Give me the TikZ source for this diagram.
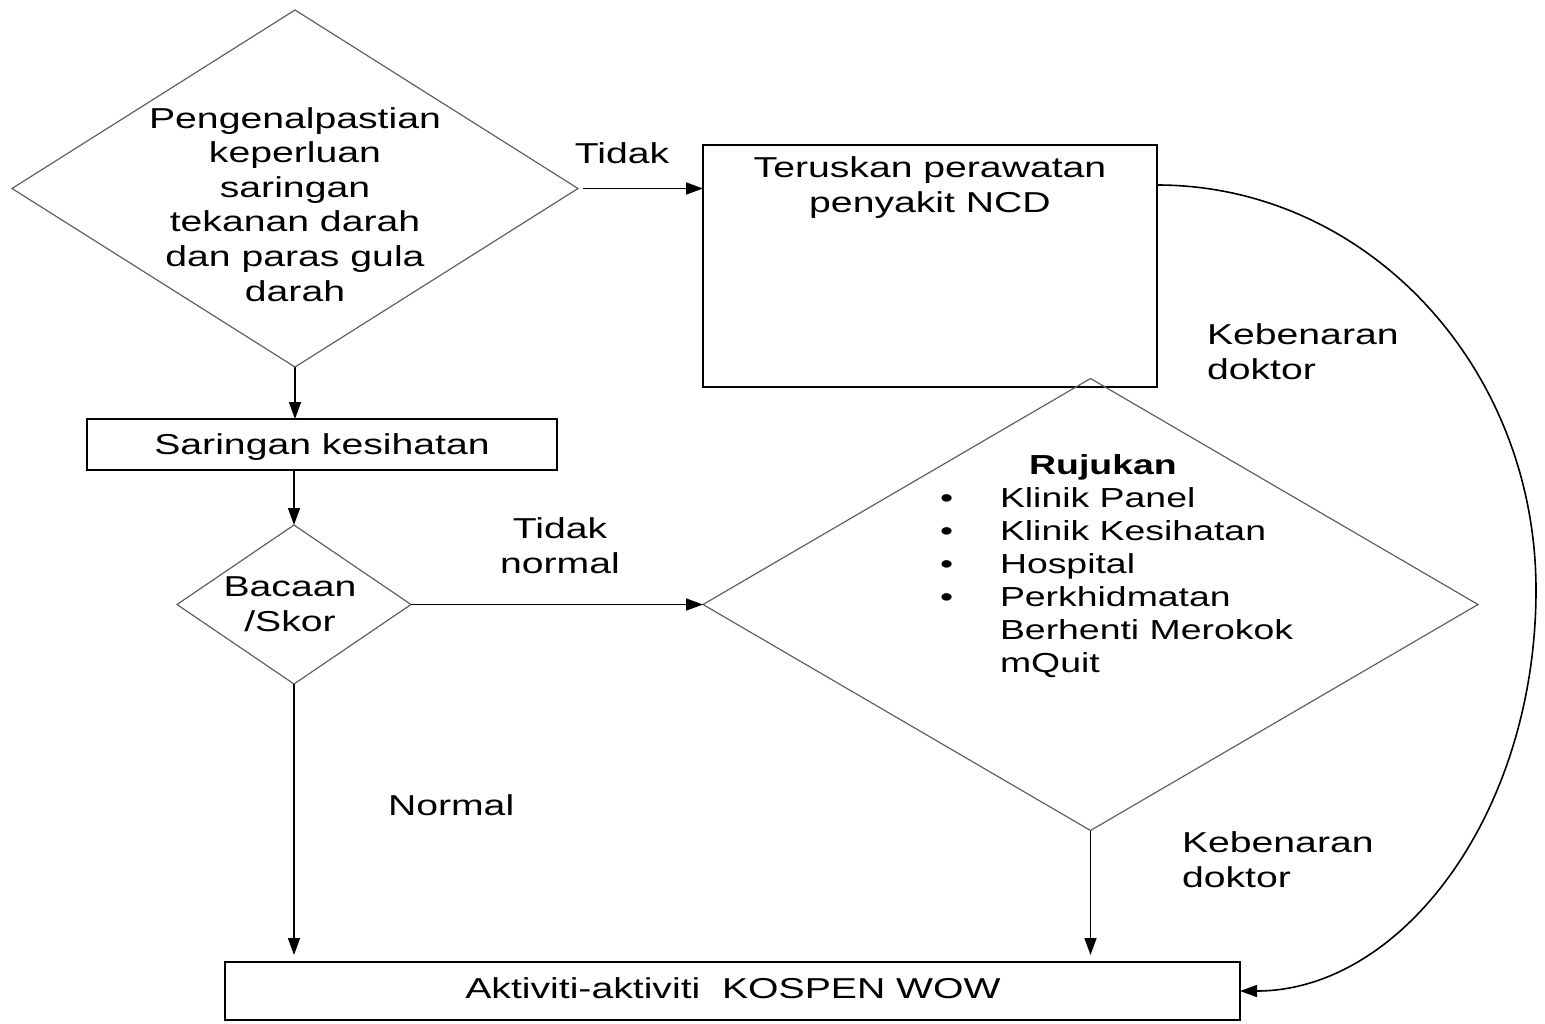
\documentclass[tikz,border=0pt]{standalone}
\usepackage{fontspec}
\setmainfont{Liberation Sans}[FakeStretch=1.36]
\usetikzlibrary{shapes.geometric,arrows.meta,calc}
\begin{document}
\begin{tikzpicture}[x=1pt,y=-1pt,
  txt/.style={font=\fontsize{28.8}{34.6}\selectfont, inner sep=0pt, outer sep=0pt, anchor=base, align=center},
  listtxt/.style={font=\fontsize{27.5}{33}\selectfont, inner sep=0pt, outer sep=0pt, anchor=base west, align=left},
  dia/.style={draw=black!62, line width=1.2pt, diamond, aspect=1, inner sep=0pt, outer sep=0pt},
  box/.style={draw=black, line width=1.6pt, rectangle, inner sep=0pt, outer sep=0pt},
  arr/.style={draw=black, line width=1.6pt, -{Triangle[length=17pt,width=12pt]}},
]
\path[use as bounding box, fill=white] (0,0) rectangle (1545,1023);

% shapes
\node[dia, minimum width=566pt, minimum height=357pt] (d1) at (295,188.5) {};
\node[box, minimum width=470pt, minimum height=51pt] (sar) at (322,444.5) {};
\node[dia, minimum width=234pt, minimum height=159pt] (d2) at (294,604.5) {};
\node[box, minimum width=454pt, minimum height=242pt] (ncd) at (930,266) {};
\node[dia, minimum width=775pt, minimum height=452pt] (d3) at (1090.5,604.5) {};
\node[box, minimum width=1015pt, minimum height=58pt] (act) at (732.5,991) {};

% texts (base anchor = baseline of the last line)
\node[txt] (t1) at (295,301) {Pengenalpastian\\keperluan\\saringan\\tekanan darah\\dan paras gula\\darah};
\node[txt] (tidak1) at (622,163) {Tidak};
\node[txt] (tncd) at (930,212) {Teruskan perawatan\\penyakit NCD};
\node[txt, anchor=base west, align=left] (keb1) at (1207,379) {Kebenaran\\doktor};
\node[txt] (tsar) at (322,454) {Saringan kesihatan};
\node[txt] (tbac) at (290,631) {Bacaan\\/Skor};
\node[txt] (tn) at (560,573) {Tidak\\normal};
\node[txt, font=\fontsize{27.5}{33}\selectfont\bfseries] (ruj) at (1103,474) {Rujukan};
\node[listtxt] (list) at (940,672) {\makebox[60pt][l]{•}Klinik Panel\\
\makebox[60pt][l]{•}Klinik Kesihatan\\
\makebox[60pt][l]{•}Hospital\\
\makebox[60pt][l]{•}Perkhidmatan\\
\hspace*{60pt}Berhenti Merokok\\
\hspace*{60pt}mQuit};
\node[txt, anchor=base west] (norm) at (388,815) {Normal};
\node[txt, anchor=base west, align=left] (keb2) at (1182,887) {Kebenaran\\doktor};
\node[txt] (tact) at (733,998) {Aktiviti-aktiviti\ \ KOSPEN WOW};

% connectors
\draw[arr] (d1.south) -- (d1.south |- sar.north);
\draw[arr] (d2.north |- sar.south) -- (d2.north);
\draw[arr, shorten <=5pt] (d1.east) -- (d1.east -| ncd.west);
\draw[arr] (d2.east) -- (d3.west);
\draw[arr, shorten >=7pt] (d2.south) -- (d2.south |- act.north);
\draw[arr, shorten >=7pt] (d3.south) -- (d3.south |- act.north);
\coordinate (cv) at (1536,590);
\draw[arr] ($(ncd.north east)+(0,40)$) .. controls +(209,0) and +(0,-224) .. (cv)
  .. controls +(0,223) and +(162,0) .. (act.east);
\end{tikzpicture}
\end{document}
